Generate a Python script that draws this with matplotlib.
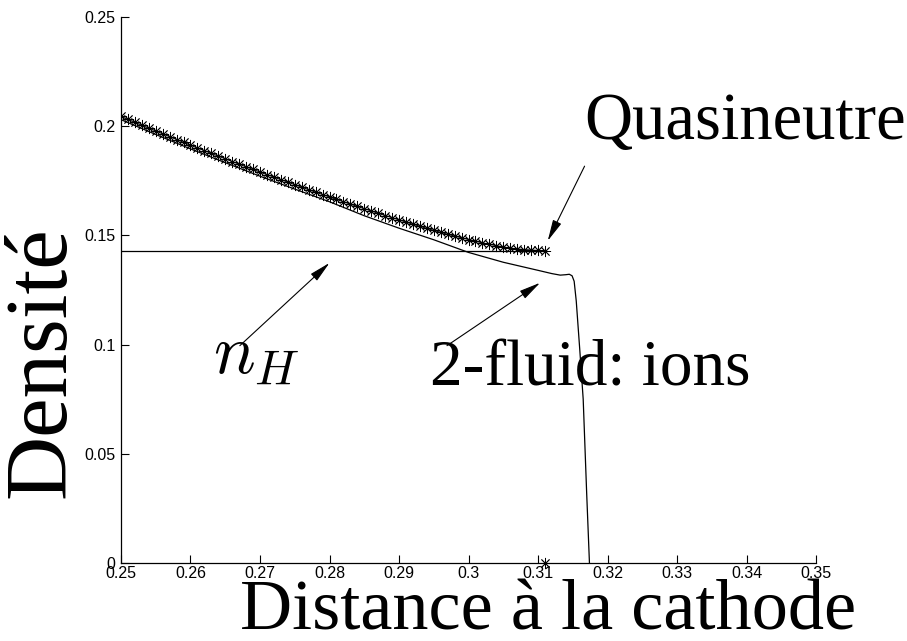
import numpy as np
import matplotlib
matplotlib.use("Agg")
import matplotlib.pyplot as plt

# Quasineutral solution (line with asterisks)
x_quasi = [0.250, 0.251, 0.252, 0.253, 0.254, 0.255, 0.256, 0.257, 0.258, 0.259,
           0.260, 0.261, 0.262, 0.263, 0.264, 0.265, 0.266, 0.267, 0.268, 0.269,
           0.270, 0.271, 0.272, 0.273, 0.274, 0.275, 0.276, 0.277, 0.278, 0.279,
           0.280, 0.281, 0.282, 0.283, 0.284, 0.285, 0.286, 0.287, 0.288, 0.289,
           0.290, 0.291, 0.292, 0.293, 0.294, 0.295, 0.296, 0.297, 0.298, 0.299,
           0.300, 0.301, 0.302, 0.303, 0.304, 0.305, 0.306, 0.307, 0.308, 0.309,
           0.310, 0.311]
n_quasi = [0.2045, 0.2031, 0.2018, 0.2004, 0.1991, 0.1978, 0.1965, 0.1952, 0.1939, 0.1926,
           0.1913, 0.1900, 0.1888, 0.1875, 0.1863, 0.1851, 0.1838, 0.1826, 0.1814, 0.1802,
           0.1790, 0.1778, 0.1767, 0.1755, 0.1744, 0.1732, 0.1721, 0.1709, 0.1698, 0.1687,
           0.1676, 0.1665, 0.1654, 0.1643, 0.1633, 0.1622, 0.1612, 0.1601, 0.1591, 0.1581,
           0.1571, 0.1561, 0.1551, 0.1542, 0.1532, 0.1523, 0.1514, 0.1505, 0.1497, 0.1489,
           0.1481, 0.1473, 0.1466, 0.1459, 0.1453, 0.1447, 0.1442, 0.1438, 0.1435, 0.1433,
           0.1431, 0.1430]

# Two-fluid model: ion density
x_ions = [0.250, 0.255, 0.260, 0.265, 0.270, 0.275, 0.280, 0.285, 0.290, 0.295,
          0.300, 0.305, 0.310, 0.312, 0.3132, 0.3140, 0.3145, 0.3149, 0.3152, 0.3155,
          0.3160, 0.3165, 0.3170, 0.3174]
n_ions = [0.2030, 0.1962, 0.1896, 0.1833, 0.1771, 0.1712, 0.1654, 0.1590, 0.1533, 0.1480,
          0.1422, 0.1377, 0.1340, 0.1325, 0.1318, 0.1320, 0.1322, 0.1315, 0.1290, 0.1200,
          0.0980, 0.0750, 0.0320, 0.0]

# Level n_H
x_nH = [0.250, 0.311]
n_H = 0.1430

# Sonic point marker on the axis
x_sonic = [0.311]
y_sonic = [0.0]

x_ticks = [0.25, 0.26, 0.27, 0.28, 0.29, 0.30, 0.31, 0.32, 0.33, 0.34, 0.35]
x_ticklabels = ["0.25", "0.26", "0.27", "0.28", "0.29", "0.3", "0.31", "0.32", "0.33", "0.34", "0.35"]
y_ticks = [0, 0.05, 0.10, 0.15, 0.20, 0.25]
y_ticklabels = ["0", "0.05", "0.1", "0.15", "0.2", "0.25"]

plt.rcParams["mathtext.fontset"] = "cm"
serif = "Liberation Serif"
sans = "Liberation Sans"

fig = plt.figure(figsize=(9.07, 6.41), dpi=100)
ax = fig.add_axes([0.1334, 0.1217, 0.7663, 0.8518])

asterisk = (8, 2, 0)
ax.plot(x_quasi, n_quasi, color="black", lw=0.8, marker=asterisk,
        markersize=8, markeredgewidth=0.6)
ax.plot(x_ions, n_ions, color="black", lw=0.9)
ax.plot(x_nH, [n_H, n_H], color="black", lw=0.9)
ax.plot(x_sonic, y_sonic, ls="none", color="black", marker=asterisk,
        markersize=8, markeredgewidth=0.6, clip_on=False)

ax.set_xlim(0.25, 0.35)
ax.set_ylim(0, 0.25)
ax.set_xticks(x_ticks)
ax.set_xticklabels(x_ticklabels, fontfamily=sans, fontsize=11.5)
ax.set_yticks(y_ticks)
ax.set_yticklabels(y_ticklabels, fontfamily=sans, fontsize=11.5)
ax.tick_params(direction="in", length=6, width=0.8, pad=2)
ax.tick_params(axis="y", pad=4)
for side in ("top", "right"):
    ax.spines[side].set_visible(False)
for side in ("left", "bottom"):
    ax.spines[side].set_linewidth(0.9)

ax.text(0.3167, 0.194, "Quasineutre", fontfamily=serif, fontsize=48,
        ha="left", va="baseline")
ax.text(0.2944, 0.0813, "2-fluid: ions", fontfamily=serif, fontsize=47,
        ha="left", va="baseline")
ax.text(0.2632, 0.0865, r"$n_H$", fontsize=50, ha="left", va="baseline")

arrow = dict(arrowstyle="-|>,head_length=1.3,head_width=0.28", color="black",
             lw=0.8, shrinkA=0, shrinkB=0)
ax.annotate("", xy=(0.3114, 0.1475), xytext=(0.3167, 0.1817), arrowprops=arrow)
ax.annotate("", xy=(0.3103, 0.1283), xytext=(0.2969, 0.0995), arrowprops=arrow)
ax.annotate("", xy=(0.2800, 0.1374), xytext=(0.2671, 0.0995), arrowprops=arrow)

fig.text(548 / 907, 1 - 629 / 641, "Distance à la cathode", fontfamily=serif,
         fontsize=52, ha="center", va="baseline")
fig.text(43 / 907, 1 - 362 / 641, "Densité", fontfamily=serif, fontsize=64,
         rotation=90, ha="center", va="center")

fig.savefig("out.png", dpi=100)
